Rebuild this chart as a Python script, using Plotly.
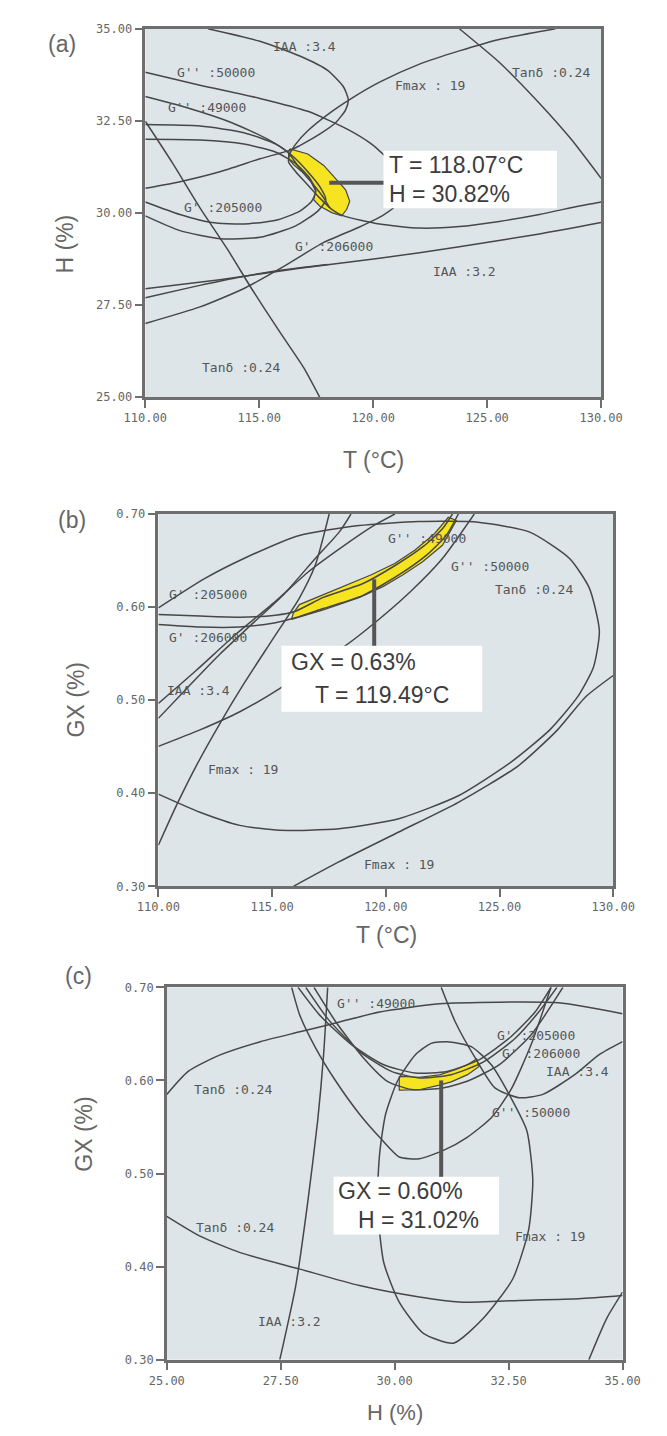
import plotly.graph_objects as go

# ---------------- panel (a): T (°C) vs H (%) ----------------
a_iaa34_T = [112.75, 115.03, 116.78, 118.00, 118.70, 118.91, 118.79, 118.35, 117.65, 116.78, 116.43, 115.03, 113.27, 111.52, 110.00]
a_iaa34_H = [35.00, 34.66, 34.26, 33.87, 33.42, 33.07, 32.80, 32.45, 32.14, 31.83, 31.72, 31.47, 31.12, 30.85, 30.67]
a_fmax_T = [127.99, 125.53, 123.78, 122.03, 120.28, 119.05, 118.00, 117.13, 116.60, 116.34, 116.29, 116.60, 117.13, 117.65, 118.18, 118.70, 120.28, 122.03, 123.78, 125.53, 127.29, 129.04, 130.00]
a_fmax_H = [35.00, 34.71, 34.40, 34.04, 33.55, 33.11, 32.67, 32.23, 31.87, 31.60, 31.38, 31.12, 30.76, 30.41, 30.10, 29.92, 29.70, 29.59, 29.63, 29.77, 29.96, 30.19, 30.30]
a_tan_r_T = [123.78, 125.53, 127.29, 128.69, 130.00]
a_tan_r_H = [35.00, 34.09, 32.98, 32.00, 30.94]
a_tan_l_T = [110.00, 111.17, 112.40, 113.63, 114.68, 115.90, 116.95, 117.65]
a_tan_l_H = [32.49, 31.38, 30.14, 28.99, 27.93, 26.77, 25.80, 25.00]
a_g2_50_T = [110.00, 112.40, 115.03, 117.13, 118.88, 119.93, 120.81]
a_g2_50_H = [33.82, 33.47, 33.11, 32.76, 32.27, 31.87, 31.38]
a_g2_49_T = [110.00, 111.87, 113.80, 115.38, 116.25, 116.78, 117.39, 117.83, 118.09]
a_g2_49_H = [33.16, 32.85, 32.45, 32.00, 31.65, 31.21, 30.76, 30.41, 30.14]
a_g1_205_T = [110.00, 112.40, 114.33, 115.73, 116.60, 117.22, 117.48, 117.30, 116.78, 115.73, 114.33, 112.92, 111.52, 110.00]
a_g1_205_H = [32.00, 31.98, 31.87, 31.65, 31.34, 30.94, 30.59, 30.32, 30.05, 29.80, 29.70, 29.74, 29.96, 30.30]
a_g1_206_T = [110.00, 112.40, 114.33, 115.73, 116.51, 117.13, 117.65, 117.92, 117.57, 116.60, 115.03, 113.27, 111.52, 110.00]
a_g1_206_H = [32.40, 32.36, 32.18, 31.87, 31.52, 31.12, 30.72, 30.36, 30.05, 29.65, 29.34, 29.30, 29.52, 29.92]
a_iaa32_T = [110.00, 113.27, 116.78, 120.28, 123.78, 127.29, 130.00]
a_iaa32_H = [27.94, 28.19, 28.50, 28.77, 29.08, 29.43, 29.74]
a_rise_T = [110.00, 112.40, 114.33, 116.08, 117.83, 119.40, 120.46, 120.98, 121.16]
a_rise_H = [27.00, 27.45, 27.95, 28.55, 29.20, 29.62, 29.95, 30.20, 30.59]
a_rise2_T = [110.00, 112.00, 114.00, 116.00, 118.00]
a_rise2_H = [27.70, 27.98, 28.24, 28.45, 28.60]
a_opt_T = [116.34, 117.13, 117.83, 118.35, 118.79, 118.97, 118.84, 118.62, 118.18, 117.65, 117.39, 117.48, 117.27, 116.87, 116.51, 116.29, 116.29, 116.34]
a_opt_H = [31.74, 31.60, 31.29, 30.94, 30.63, 30.32, 30.10, 29.92, 30.01, 30.19, 30.36, 30.59, 30.85, 31.12, 31.31, 31.47, 31.65, 31.74]
a_label_text = ["IAA :3.4", "G'' :50000", "Fmax : 19", "Tanδ :0.24", "G'' :49000", "G' :205000", "G' :206000", "IAA :3.2", "Tanδ :0.24"]
a_label_T = [117.0, 113.1, 122.5, 127.8, 112.7, 113.4, 118.3, 124.0, 114.2]
a_label_H = [34.53, 33.82, 33.47, 33.82, 32.85, 30.14, 29.08, 28.41, 25.80]
a_point = (118.07, 30.82)
a_box_T = [120.45, 128.07]
a_box_H = [30.13, 31.69]

# ---------------- panel (b): T (°C) vs GX (%) ----------------
b_tan_T = [110.00, 112.01, 113.76, 116.20, 118.82, 121.44, 124.06, 126.33, 128.08, 128.95, 129.39, 129.13, 128.43, 127.21, 125.46, 123.19, 120.57, 117.95, 115.33, 113.58, 111.83, 110.00]
b_tan_G = [0.5991, 0.6303, 0.6522, 0.6770, 0.6876, 0.6919, 0.6912, 0.6805, 0.6522, 0.6204, 0.5743, 0.5354, 0.5035, 0.4681, 0.4327, 0.3973, 0.3726, 0.3619, 0.3602, 0.3655, 0.3796, 0.3991]
b_fmax_lo_T = [115.94, 117.95, 120.57, 123.19, 125.81, 127.55, 128.78, 130.00]
b_fmax_lo_G = [0.300, 0.3265, 0.3584, 0.3903, 0.4292, 0.4681, 0.5035, 0.5265]
b_g2_50_T = [110.00, 111.83, 113.58, 115.33, 116.80, 118.21, 119.69, 121.09, 122.49, 123.89]
b_g2_50_G = [0.4504, 0.4681, 0.4876, 0.5124, 0.5380, 0.5584, 0.5867, 0.6168, 0.6522, 0.700]
b_fmax_up_T = [110.00, 110.79, 111.66, 112.71, 113.76, 114.98, 116.20, 116.90, 117.51]
b_fmax_up_G = [0.3442, 0.3867, 0.4292, 0.4752, 0.5177, 0.5637, 0.6097, 0.6451, 0.700]
b_iaa34_T = [110.00, 111.31, 112.71, 114.10, 115.50, 116.90, 117.95, 118.47]
b_iaa34_G = [0.4805, 0.5142, 0.5496, 0.5814, 0.6133, 0.6522, 0.6805, 0.700]
b_g2_49_T = [110.00, 111.66, 113.41, 115.15, 116.60, 118.10, 119.50, 120.40]
b_g2_49_G = [0.4965, 0.5319, 0.5708, 0.6062, 0.6380, 0.6650, 0.6880, 0.700]
b_g1_205_T = [110.00, 111.83, 113.58, 115.15, 116.03, 117.25, 119.00, 120.39, 121.62, 122.49, 122.93]
b_g1_205_G = [0.5920, 0.5903, 0.5892, 0.5913, 0.5956, 0.6104, 0.6253, 0.6444, 0.6646, 0.6841, 0.700]
b_g1_206_T = [110.00, 111.83, 113.58, 115.15, 116.03, 117.25, 119.00, 120.57, 121.79, 122.66, 123.19]
b_g1_206_G = [0.5814, 0.5786, 0.5786, 0.5832, 0.5885, 0.5984, 0.6126, 0.6345, 0.6558, 0.6770, 0.700]
b_opt_T = [115.85, 117.25, 118.82, 119.87, 120.74, 121.62, 122.49, 123.10, 122.75, 122.14, 121.27, 120.39, 119.34, 118.47, 117.25, 116.20, 115.94, 115.85]
b_opt_G = [0.5867, 0.5970, 0.6100, 0.6220, 0.6345, 0.6487, 0.6664, 0.6930, 0.6965, 0.6788, 0.6610, 0.6469, 0.6345, 0.6257, 0.6133, 0.6027, 0.5938, 0.5867]
b_label_text = ["G'' :49000", "G'' :50000", "Tanδ :0.24", "G' :205000", "G' :206000", "IAA :3.4", "Fmax : 19", "Fmax : 19"]
b_label_T = [121.8, 124.6, 126.5, 112.2, 112.2, 111.75, 113.7, 120.6]
b_label_G = [0.6735, 0.6434, 0.6186, 0.6133, 0.5673, 0.5106, 0.4257, 0.323]
b_point = (119.49, 0.63)
b_box_T = [115.41, 124.24]
b_box_G = [0.4876, 0.5584]

# ---------------- panel (c): H (%) vs GX (%) ----------------
c_tan_up_H = [25.00, 25.47, 26.17, 27.05, 27.92, 28.79, 29.67, 30.98, 32.29, 33.60, 35.00]
c_tan_up_G = [0.585, 0.6097, 0.6274, 0.6416, 0.6522, 0.6628, 0.6735, 0.6823, 0.6841, 0.6834, 0.6717]
c_tan_lo_H = [25.00, 25.73, 26.61, 27.92, 29.23, 30.54, 31.42, 32.73, 34.04, 35.00]
c_tan_lo_G = [0.454, 0.4327, 0.4150, 0.3973, 0.3796, 0.3673, 0.3619, 0.3637, 0.3655, 0.3690]
c_iaa32_H = [27.48, 27.83, 28.09, 28.31, 28.44, 28.53]
c_iaa32_G = [0.300, 0.3796, 0.4681, 0.5566, 0.6274, 0.700]
c_corner_H = [34.26, 34.65, 35.00]
c_corner_G = [0.300, 0.3442, 0.3726]
c_fmax_H = [31.15, 31.68, 32.12, 32.55, 32.90, 33.03, 32.94, 32.59, 31.94, 31.29, 30.63, 30.10, 29.76, 29.62, 29.67, 29.80, 30.06, 30.45, 30.80, 31.15]
c_fmax_G = [0.6416, 0.6363, 0.6168, 0.5814, 0.5460, 0.4929, 0.4398, 0.3867, 0.3442, 0.3177, 0.3283, 0.3619, 0.4044, 0.4681, 0.5212, 0.5637, 0.5991, 0.6274, 0.6398, 0.6416]
c_iaa34_H = [31.02, 31.33, 31.77, 32.20, 32.73, 33.25, 33.95, 34.48, 35.00]
c_iaa34_G = [0.700, 0.6628, 0.6239, 0.5920, 0.5814, 0.5850, 0.6062, 0.6274, 0.6416]
c_g2_50_H = [27.74, 27.92, 28.27, 28.71, 29.23, 29.67, 30.10, 30.54, 31.07, 31.59, 32.12, 32.55, 32.99, 33.43]
c_g2_50_G = [0.700, 0.6699, 0.6345, 0.5991, 0.5637, 0.5389, 0.5177, 0.5159, 0.5248, 0.5389, 0.5600, 0.5900, 0.6380, 0.700]
c_g1_206_H = [27.88, 28.36, 29.06, 29.76, 30.45, 31.15, 31.85, 32.55, 33.08, 33.43]
c_g1_206_G = [0.700, 0.6699, 0.6381, 0.6168, 0.6080, 0.6097, 0.6221, 0.6469, 0.6735, 0.700]
c_g1_205_H = [28.05, 28.53, 29.23, 29.93, 30.54, 31.24, 31.94, 32.64, 33.16, 33.56]
c_g1_205_G = [0.700, 0.6664, 0.6310, 0.6097, 0.6027, 0.6062, 0.6196, 0.6451, 0.6735, 0.700]
c_g2_49_H = [28.23, 28.71, 29.32, 29.84, 30.37, 30.98, 31.59, 32.29, 32.99, 33.69]
c_g2_49_G = [0.700, 0.6628, 0.6239, 0.5991, 0.5903, 0.5913, 0.5991, 0.6168, 0.6487, 0.700]
c_opt_H = [30.10, 30.54, 30.98, 31.33, 31.60, 31.80, 31.85, 31.60, 31.24, 30.98, 30.54, 30.10, 30.10]
c_opt_G = [0.6043, 0.6034, 0.6060, 0.6115, 0.6170, 0.6230, 0.6150, 0.6062, 0.5985, 0.5950, 0.5900, 0.5895, 0.6043]
c_label_text = ["G'' :49000", "G' :205000", "G' :206000", "IAA :3.4", "G'' :50000", "Tanδ :0.24", "Tanδ :0.24", "Fmax : 19", "IAA :3.2"]
c_label_H = [29.6, 33.1, 33.2, 34.0, 33.0, 26.45, 26.5, 33.4, 27.7]
c_label_G = [0.6823, 0.6487, 0.6292, 0.6097, 0.5655, 0.5903, 0.4416, 0.4327, 0.3407]
c_point = (31.02, 0.60)
c_box_H = [28.66, 32.29]
c_box_G = [0.4346, 0.4965]

# ---------------- styling ----------------
LINE = "#474747"
AXIS = "#6e6e6e"
PLOT_BG = "#dde5e9"
YELLOW = "#f7e420"
TEXT = "#555555"

fig = go.Figure()

def add_curve(x, y, ax):
    fig.add_trace(go.Scatter(x=x, y=y, mode="lines", xaxis=ax[0], yaxis=ax[1],
                             line=dict(color=LINE, width=1.5, shape="spline", smoothing=0.6),
                             hoverinfo="skip", showlegend=False))

def add_region(x, y, ax):
    fig.add_trace(go.Scatter(x=x, y=y, mode="lines", fill="toself", fillcolor=YELLOW,
                             xaxis=ax[0], yaxis=ax[1],
                             line=dict(color=LINE, width=1.2),
                             hoverinfo="skip", showlegend=False))

panels = {
    "a": (("x", "y"),
          [(a_iaa34_T, a_iaa34_H), (a_fmax_T, a_fmax_H), (a_tan_r_T, a_tan_r_H), (a_tan_l_T, a_tan_l_H),
           (a_g2_50_T, a_g2_50_H), (a_g2_49_T, a_g2_49_H), (a_g1_205_T, a_g1_205_H), (a_g1_206_T, a_g1_206_H),
           (a_iaa32_T, a_iaa32_H), (a_rise_T, a_rise_H), (a_rise2_T, a_rise2_H)],
          (a_opt_T, a_opt_H)),
    "b": (("x2", "y2"),
          [(b_tan_T, b_tan_G), (b_fmax_lo_T, b_fmax_lo_G), (b_g2_50_T, b_g2_50_G), (b_fmax_up_T, b_fmax_up_G),
           (b_iaa34_T, b_iaa34_G), (b_g2_49_T, b_g2_49_G), (b_g1_205_T, b_g1_205_G), (b_g1_206_T, b_g1_206_G)],
          (b_opt_T, b_opt_G)),
    "c": (("x3", "y3"),
          [(c_tan_up_H, c_tan_up_G), (c_tan_lo_H, c_tan_lo_G), (c_iaa32_H, c_iaa32_G), (c_corner_H, c_corner_G),
           (c_fmax_H, c_fmax_G), (c_iaa34_H, c_iaa34_G), (c_g2_50_H, c_g2_50_G), (c_g1_206_H, c_g1_206_G),
           (c_g1_205_H, c_g1_205_G), (c_g2_49_H, c_g2_49_G)],
          (c_opt_H, c_opt_G)),
}

for key, (ax, curves, region) in panels.items():
    add_region(region[0], region[1], ax)
    for cx, cy in curves:
        add_curve(cx, cy, ax)

def add_labels(texts, xs, ys, ax):
    for t, x, y in zip(texts, xs, ys):
        fig.add_annotation(x=x, y=y, xref=ax[0], yref=ax[1], text=t, showarrow=False,
                           font=dict(family="DejaVu Sans Mono", size=13, color=TEXT))

add_labels(a_label_text, a_label_T, a_label_H, ("x", "y"))
add_labels(b_label_text, b_label_T, b_label_G, ("x2", "y2"))
add_labels(c_label_text, c_label_H, c_label_G, ("x3", "y3"))

# value boxes with leader lines
def value_box(bx, by, point, lines, ax, vertical):
    fig.add_shape(type="rect", xref=ax[0], yref=ax[1], x0=bx[0], x1=bx[1], y0=by[0], y1=by[1],
                  fillcolor="white", line=dict(width=0), layer="above")
    if vertical:
        fig.add_shape(type="line", xref=ax[0], yref=ax[1], x0=point[0], x1=point[0],
                      y0=point[1], y1=by[1], line=dict(color="#555555", width=4), layer="above")
    else:
        fig.add_shape(type="line", xref=ax[0], yref=ax[1], x0=point[0], x1=bx[0],
                      y0=point[1], y1=point[1], line=dict(color="#555555", width=4), layer="above")
    ny = len(lines)
    for i, (txt, xoff) in enumerate(lines):
        yy = by[1] - (by[1] - by[0]) * (i + 0.5) / ny
        fig.add_annotation(x=bx[0] + xoff, y=yy, xref=ax[0], yref=ax[1], text=txt, showarrow=False,
                           xanchor="left", yanchor="middle",
                           font=dict(family="Liberation Sans", size=23, color="#3c3c3c"))

value_box(a_box_T, a_box_H, a_point,
          [(f"T = {a_point[0]:.2f}°C", 0.15), (f"H = {a_point[1]:.2f}%", 0.15)], ("x", "y"), False)
value_box(b_box_T, b_box_G, b_point,
          [(f"GX = {b_point[1]:.2f}%", 0.35), (f"T = {b_point[0]:.2f}°C", 1.40)], ("x2", "y2"), True)
value_box(c_box_H, c_box_G, c_point,
          [(f"GX = {c_point[1]:.2f}%", 0.05), (f"H = {c_point[0]:.2f}%", 0.50)], ("x3", "y3"), True)

# axes
W, Hh = 667, 1436
def dom(p0, p1, total, flip=False):
    if flip:
        return [1 - p1 / total, 1 - p0 / total]
    return [p0 / total, p1 / total]

tickfont = dict(family="DejaVu Sans Mono", size=12, color="#666666")
common = dict(showgrid=False, zeroline=False, showline=True, linecolor=AXIS, linewidth=2.5,
              mirror=True, ticks="outside", ticklen=8, tickwidth=2, tickcolor=AXIS, tickfont=tickfont)

T_ticks = [110, 115, 120, 125, 130]
H_ticks = [25, 27.5, 30, 32.5, 35]
G_ticks = [0.3, 0.4, 0.5, 0.6, 0.7]

fig.update_layout(
    width=W, height=Hh, margin=dict(l=0, r=0, t=0, b=0),
    paper_bgcolor="white", plot_bgcolor=PLOT_BG,
    xaxis=dict(domain=dom(132, 620, W), range=[110, 130], tickvals=T_ticks,
               ticktext=[f"{v:.2f}" for v in T_ticks], anchor="y", **common),
    yaxis=dict(domain=dom(22, 394, Hh, True), range=[25, 35], tickvals=H_ticks,
               ticktext=[f"{v:.2f}" for v in H_ticks], anchor="x", **common),
    xaxis2=dict(domain=dom(146, 633, W), range=[110, 130], tickvals=T_ticks,
                ticktext=[f"{v:.2f}" for v in T_ticks], anchor="y2", **common),
    yaxis2=dict(domain=dom(512, 888, Hh, True), range=[0.3, 0.7], tickvals=G_ticks,
                ticktext=[f"{v:.2f}" for v in G_ticks], anchor="x2", **common),
    xaxis3=dict(domain=dom(155, 643, W), range=[25, 35], tickvals=H_ticks,
                ticktext=[f"{v:.2f}" for v in H_ticks], anchor="y3", **common),
    yaxis3=dict(domain=dom(990, 1366, Hh, True), range=[0.3, 0.7], tickvals=G_ticks,
                ticktext=[f"{v:.2f}" for v in G_ticks], anchor="x3", **common),
)

# panel letters and axis titles
title_font = dict(family="Liberation Sans", size=23, color="#666666")
for txt, px, py in [("(a)", 26, 22), ("(b)", 36, 518), ("(c)", 44, 994)]:
    fig.add_annotation(x=px / W, y=1 - py / Hh, xref="paper", yref="paper", text=txt,
                       showarrow=False, font=title_font)
for txt, px, py in [("T (°C)", 376, 442), ("T (°C)", 390, 937)]:
    fig.add_annotation(x=px / W, y=1 - py / Hh, xref="paper", yref="paper", text=txt,
                       showarrow=False, font=title_font)
fig.add_annotation(x=399 / W, y=1 - 1434 / Hh, xref="paper", yref="paper", text="H (%)",
                   showarrow=False, yanchor="bottom", font=dict(family="Liberation Sans", size=22, color="#666666"))
for txt, px, py in [("H (%)", 30, 208), ("GX (%)", 42, 700), ("GX (%)", 50, 1178)]:
    fig.add_annotation(x=px / W, y=1 - py / Hh, xref="paper", yref="paper", text=txt,
                       showarrow=False, textangle=-90, font=title_font)

fig.write_html("out.html")
